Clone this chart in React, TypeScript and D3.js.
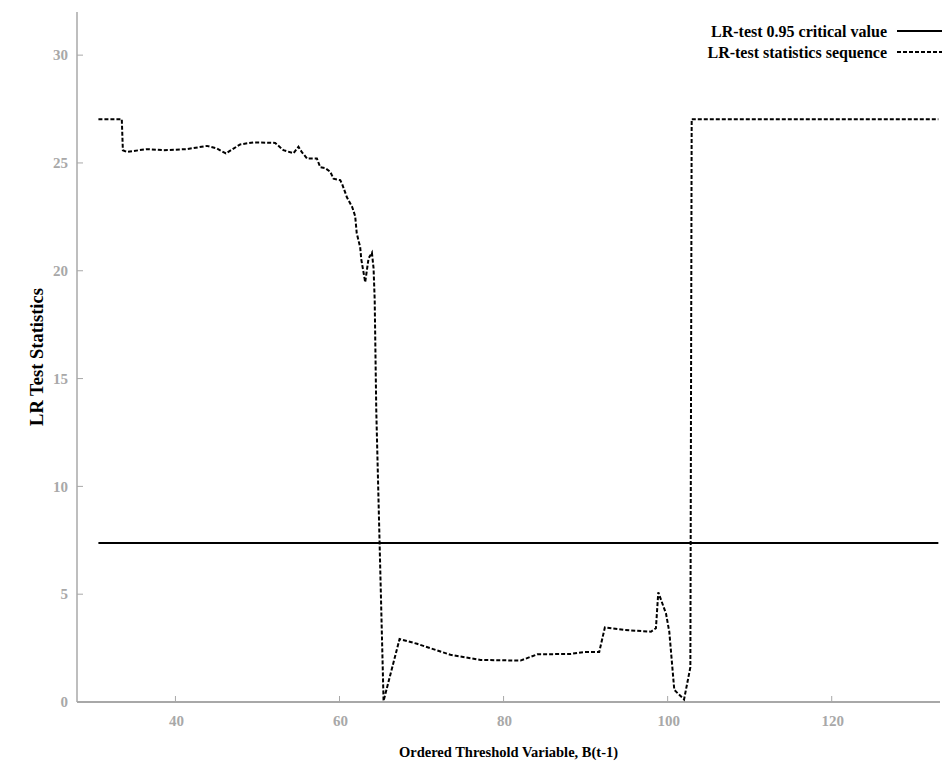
import React from "react";
import * as d3 from "d3";

const xTicks = [40, 60, 80, 100, 120];
const yTicks = [0, 5, 10, 15, 20, 25, 30];
const criticalValue = 7.37;
const criticalRange = [30.61, 133.0];

const lrX = [
  30.61, 33.46, 33.59, 34.07, 36.51, 38.54, 41.39, 43.83, 45.05, 46.15, 47.89, 49.51,
  52.16, 53.17, 54.39, 55.0, 55.41, 56.06, 57.24, 57.65, 58.26, 58.87, 59.27, 60.09,
  60.33, 60.9, 61.55, 61.91, 62.1, 62.52, 62.65, 63.13, 63.54, 63.95, 64.15, 64.29,
  64.48, 65.37, 67.32, 69.45, 73.52, 77.18, 82.06, 84.1, 88.2, 89.83, 91.66, 92.35,
  94.7, 97.96, 98.57, 98.86, 99.8, 100.2, 100.81, 102.0, 102.6, 102.77, 102.93, 133.0,
];
const lrY = [
  27.03, 27.03, 25.59, 25.51, 25.64, 25.59, 25.64, 25.79, 25.67, 25.44, 25.86, 25.95,
  25.93, 25.59, 25.45, 25.75, 25.5, 25.2, 25.21, 24.8, 24.76, 24.59, 24.27, 24.2,
  24.01, 23.41, 22.95, 22.53, 21.74, 21.09, 20.54, 19.47, 20.57, 20.84, 20.12, 18.64,
  13.54, 0.05, 2.92, 2.7, 2.19, 1.95, 1.92, 2.21, 2.23, 2.32, 2.32, 3.46,
  3.34, 3.26, 3.42, 5.09, 4.1, 3.26, 0.56, 0.12, 1.28, 1.62, 27.03, 27.03,
];

const legendLabels = ["LR-test 0.95 critical value", "LR-test statistics sequence"];
const xLabel = "Ordered Threshold Variable, B(t-1)";
const yLabel = "LR Test Statistics";

const W = 950;
const H = 764;
const font = "'Liberation Serif', 'DejaVu Serif', serif";
const grey = "#a8a8a8";

export default function App() {
  const x = d3.scaleLinear().domain([28, 133.2]).range([77, 940]);
  const y = d3.scaleLinear().domain([0, 32]).range([702, 12]);
  const pts: [number, number][] = lrX.map((v, i) => [v, lrY[i]]);
  const line = d3
    .line<[number, number]>()
    .x((d) => x(d[0]))
    .y((d) => y(d[1]));

  return (
    <svg
      width={W}
      height={H}
      style={{ position: "absolute", left: 0, top: 0, background: "#fff" }}
      fontFamily={font}
    >
      {/* axes */}
      <line x1={x(28)} x2={x(28)} y1={y(32)} y2={y(0)} stroke={grey} strokeWidth={1.5} />
      <line x1={x(28)} x2={x(133.2)} y1={y(0)} y2={y(0)} stroke={grey} strokeWidth={2} />
      {yTicks.map((t) => (
        <g key={"y" + t}>
          <line x1={x(28)} x2={x(28) + 6} y1={y(t)} y2={y(t)} stroke={grey} strokeWidth={1} />
          <text
            x={x(28) - 9}
            y={y(t)}
            dy="0.35em"
            textAnchor="end"
            fontSize={15}
            fontWeight="bold"
            fill={grey}
          >
            {t}
          </text>
        </g>
      ))}
      {xTicks.map((t) => (
        <g key={"x" + t}>
          <line x1={x(t)} x2={x(t)} y1={y(0)} y2={y(0) - 6} stroke={grey} strokeWidth={1} />
          <text
            x={x(t) + 1}
            y={y(0) + 24}
            textAnchor="middle"
            fontSize={15}
            fontWeight="bold"
            fill={grey}
          >
            {t}
          </text>
        </g>
      ))}
      <text
        x={(x(28) + x(133.2)) / 2}
        y={757}
        textAnchor="middle"
        fontSize={14.5}
        fontWeight="bold"
        fill="#000"
      >
        {xLabel}
      </text>
      <text
        transform={`translate(43,${(y(0) + y(32)) / 2}) rotate(-90)`}
        textAnchor="middle"
        fontSize={18.5}
        fontWeight="bold"
        fill="#000"
      >
        {yLabel}
      </text>

      {/* critical value */}
      <line
        x1={x(criticalRange[0])}
        x2={x(criticalRange[1])}
        y1={y(criticalValue)}
        y2={y(criticalValue)}
        stroke="#000"
        strokeWidth={2}
      />
      {/* LR sequence */}
      <path
        d={line(pts) || ""}
        fill="none"
        stroke="#000"
        strokeWidth={2}
        strokeDasharray="4,2"
      />

      {/* legend */}
      {legendLabels.map((l, i) => (
        <g key={l}>
          <text
            x={887}
            y={31 + i * 21}
            dy="0.35em"
            textAnchor="end"
            fontSize={16}
            fontWeight="bold"
            fill="#000"
          >
            {l}
          </text>
          <line
            x1={897}
            x2={942}
            y1={31 + i * 21}
            y2={31 + i * 21}
            stroke="#000"
            strokeWidth={2}
            strokeDasharray={i === 1 ? "4,2" : undefined}
          />
        </g>
      ))}
    </svg>
  );
}
